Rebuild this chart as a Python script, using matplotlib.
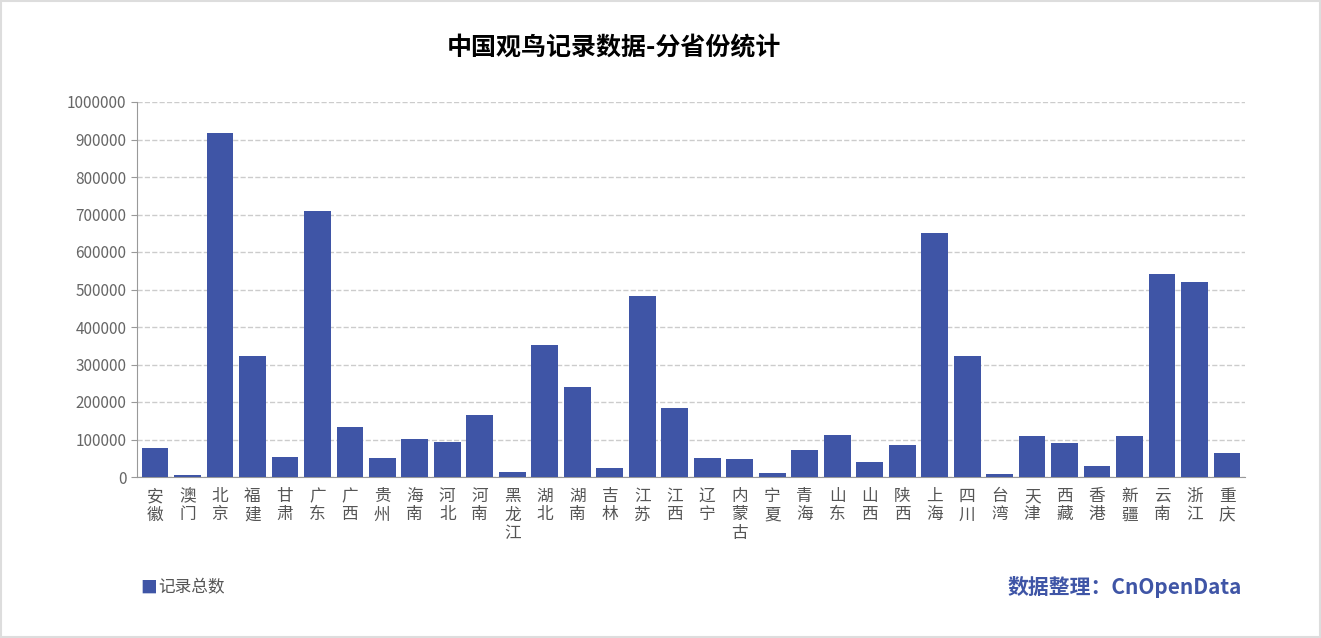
import matplotlib.pyplot as plt
from matplotlib.patches import Rectangle

plt.rcParams["font.family"] = "Noto Sans CJK SC"

provinces = ["安徽", "澳门", "北京", "福建", "甘肃", "广东", "广西", "贵州", "海南", "河北",
             "河南", "黑龙江", "湖北", "湖南", "吉林", "江苏", "江西", "辽宁", "内蒙古", "宁夏",
             "青海", "山东", "山西", "陕西", "上海", "四川", "台湾", "天津", "西藏", "香港",
             "新疆", "云南", "浙江", "重庆"]
records = [77000, 5000, 917000, 323000, 53000, 709000, 133000, 51000, 101000, 93000,
           165000, 13000, 352000, 240000, 24000, 483000, 184000, 51000, 48000, 10000,
           72000, 112000, 40000, 85000, 651000, 323000, 8000, 109000, 91000, 29000,
           109000, 541000, 520000, 64000]
yticks = list(range(0, 1000001, 100000))

bar_color = "#3f55a6"
fig = plt.figure(figsize=(13.21, 6.38), dpi=100)
fig.patches.append(Rectangle((0.001, 0.001), 0.998, 0.998, transform=fig.transFigure,
                             fill=False, edgecolor="#dddddd", linewidth=1.5))
ax = fig.add_axes([137 / 1321, 1 - 477 / 638, (1245 - 137) / 1321, (477 - 102) / 638])

x = range(len(provinces))
ax.bar(x, records, width=0.82, color=bar_color, zorder=3)
ax.set_xlim(-0.55, len(provinces) - 0.45)
ax.set_ylim(0, 1000000)
ax.set_yticks(yticks)
ax.set_yticklabels([str(v) for v in yticks], color="#666666", fontsize=11)
ax.set_xticks(list(x))
ax.set_xticklabels(["\n".join(p) for p in provinces], color="#555555", fontsize=12,
                   linespacing=1.1)
ax.tick_params(axis="x", length=0, pad=8)
ax.tick_params(axis="y", length=4, color="#999999")
ax.grid(axis="y", linestyle="--", color="#cccccc", linewidth=1, zorder=0)
for s in ["top", "right"]:
    ax.spines[s].set_visible(False)
ax.spines["left"].set_color("#999999")
ax.spines["bottom"].set_color("#999999")

fig.text(0.465, 1 - 48 / 638, "中国观鸟记录数据-分省份统计", ha="center", va="center",
         fontsize=18, fontweight="bold")
fig.text(140 / 1321, 1 - 588 / 638, "■", color=bar_color, ha="left", va="center", fontsize=12)
fig.text(158 / 1321, 1 - 588 / 638, "记录总数", color="#555555", ha="left", va="center", fontsize=12)
fig.text(1242 / 1321, 1 - 587 / 638, "数据整理：CnOpenData", color=bar_color, ha="right",
         va="center", fontsize=15, fontweight="bold")

fig.savefig("out.png", dpi=100)
